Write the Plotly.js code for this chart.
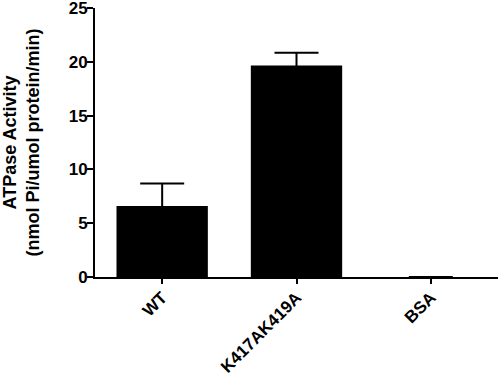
<!DOCTYPE html>
<html><head><meta charset="utf-8">
<script src="https://cdn.plot.ly/plotly-3.0.1.min.js"></script>
<style>html,body{margin:0;padding:0;background:#fff}#c{width:500px;height:377px}</style>
</head><body><div id="c"></div>
<script>
const categories = ["WT", "K417AK419A", "BSA"];
const activity = [6.6, 19.65, 0];
const errUpper = [2.1, 1.2, null];
const yTicks = [0, 5, 10, 15, 20, 25];

const font = "Arial, Liberation Sans, Helvetica, sans-serif";
Plotly.newPlot("c", [{
  type: "bar",
  x: categories,
  y: activity,
  width: 0.68,
  marker: {color: "#000", line: {color: "#000", width: 0}},
  error_y: {type: "data", symmetric: true, array: errUpper, color: "#000", thickness: 2, width: 22, visible: true}
}], {
  width: 500, height: 377,
  margin: {l: 95, r: 2, t: 8, b: 100},
  paper_bgcolor: "#fff", plot_bgcolor: "#fff",
  showlegend: false,
  font: {family: font, color: "#000", weight: 700},
  xaxis: {
    range: [-0.5, 2.5], showline: true, linecolor: "#000", linewidth: 2, layer: "above traces",
    ticks: "outside", ticklen: 5, tickwidth: 2, tickcolor: "#000",
    tickangle: -45, tickfont: {size: 17, family: font, weight: 700},
    ticklabeloverflow: "allow", ticklabelstandoff: -3,
    showgrid: false, zeroline: false
  },
  yaxis: {
    range: [0, 25], tickmode: "array", tickvals: yTicks, ticktext: yTicks.map(String),
    showline: true, linecolor: "#000", linewidth: 2,
    ticks: "outside", ticklen: 6, tickwidth: 2, tickcolor: "#000",
    tickfont: {size: 17, family: font, weight: 700},
    ticklabeloverflow: "allow", ticklabelstandoff: -4,
    showgrid: false, zeroline: false,
    title: {text: "ATPase Activity<br>(nmol Pi/umol protein/min)", font: {size: 18, family: font, weight: 700}, standoff: 24}
  }
}, {displayModeBar: false, staticPlot: true});
</script></body></html>
